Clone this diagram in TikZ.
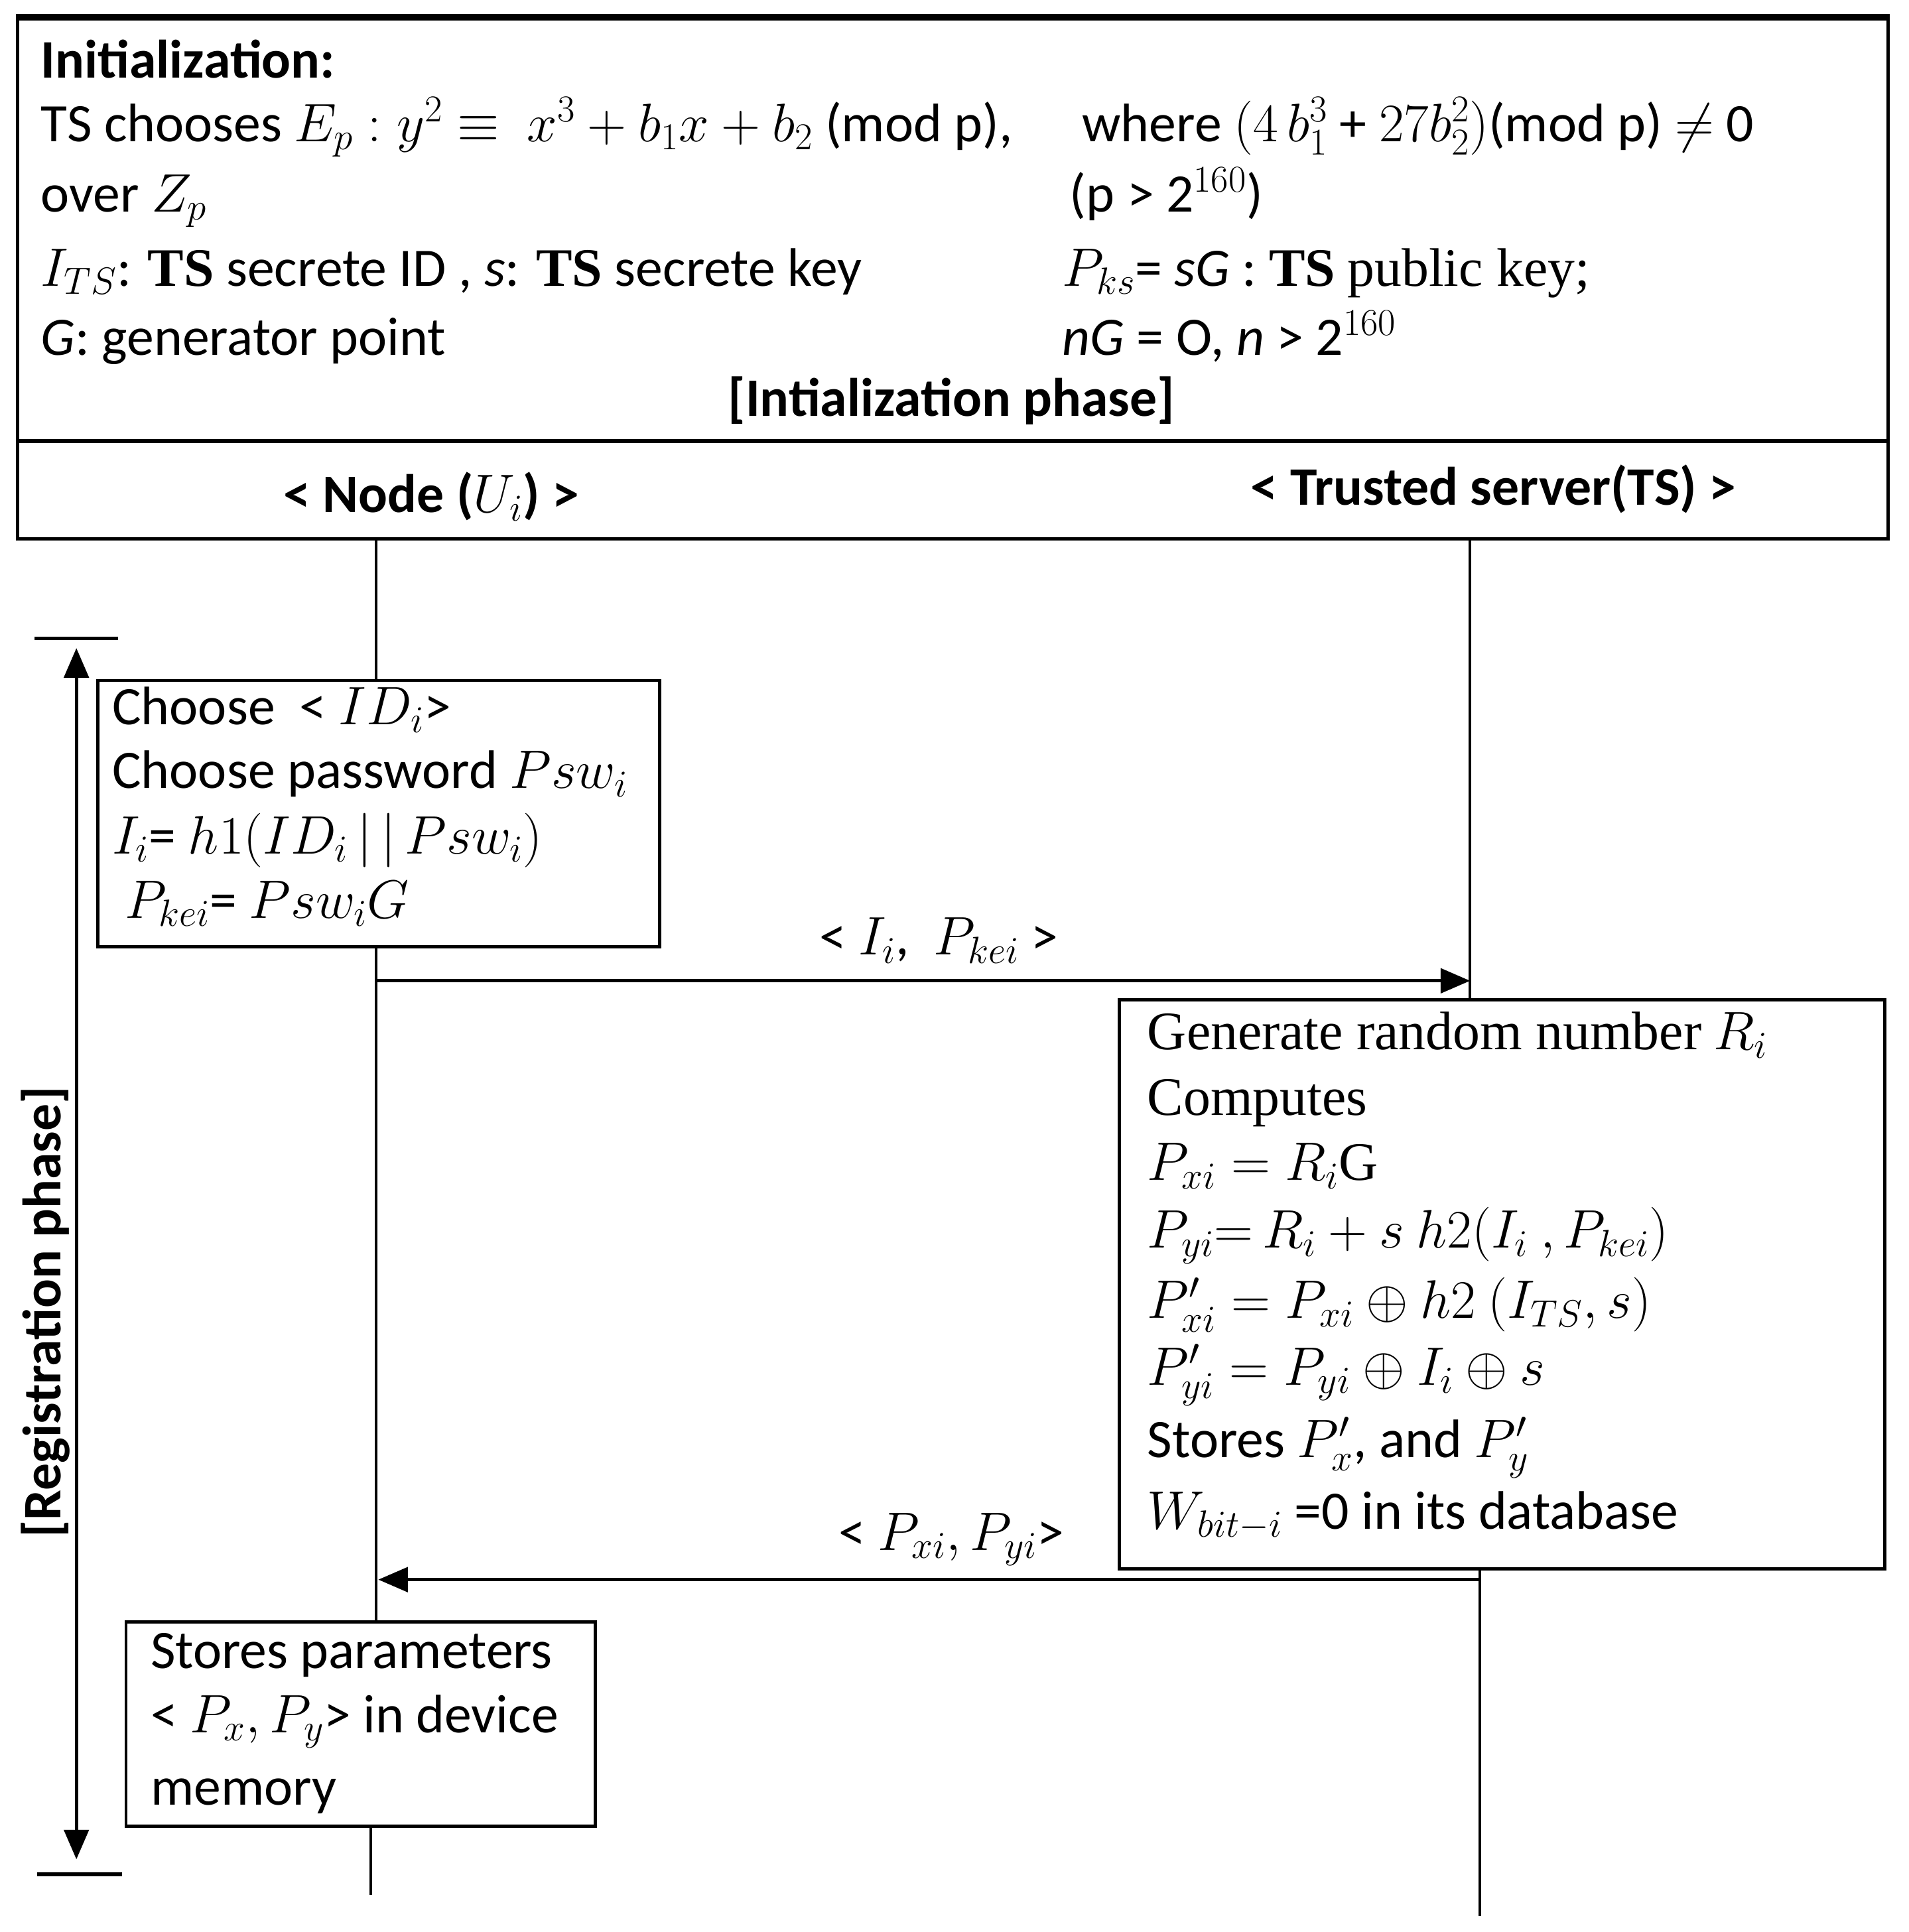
\RequirePackage{fix-cm}
\documentclass[tikz,border=0pt]{standalone}
\usepackage{fontspec}
\setmainfont{Carlito}
\newfontfamily\serf{Liberation Serif}
\usetikzlibrary{arrows.meta}
\begin{document}
\begin{tikzpicture}[x=1pt,y=-1pt,
  txt/.style={anchor=base west,inner sep=0pt,font=\fontsize{44}{53}\selectfont},
  ctxt/.style={anchor=base,inner sep=0pt,font=\fontsize{44}{53}\selectfont},
  btxt/.style={anchor=base,inner sep=0pt,font=\fontsize{44}{53}\selectfont\bfseries},
  boxr/.style={draw,line width=2.6pt,anchor=north west,inner sep=0pt},
  life/.style={line width=2.2pt},
  msg/.style={line width=2.6pt,-{Triangle[length=24pt,width=20pt]}},
  tick/.style={line width=3pt}]
\useasboundingbox (0,0) rectangle (1549,1568);
% header
\node[boxr,minimum width=1518pt,minimum height=422pt] (head) at (13,14) {};
\draw[line width=5pt] (head.north west) -- (head.north east);
\coordinate (divL) at (13,358);
\coordinate (divR) at (1531,358);
\draw[line width=3pt] (divL) -- (divR);
\node[txt] (init) at (33,63) {\textbf{Initialization:}};
\node[txt] (l2a) at (33,115) {TS chooses $E_p : y^2 \equiv\ x^3 + b_1x + b_2$ (mod p),};
\node[txt] (l2b) at (878,115) {where $(4\,b_1^3$ + $27b_2^2)$(mod p) $\neq$ 0};
\node[txt] (l3a) at (33,172) {over $Z_p$};
\node[txt] (l3b) at (868,172) {(p > 2$^{160}$)};
\node[txt] (l4a) at (33,232) {$I_{TS}$: {\serf\bfseries TS} secrete ID , \textit{s}: {\serf\bfseries TS} secrete key};
\node[txt] (l4b) at (862,232) {$P_{ks}$= \textit{sG} : {\serf\bfseries TS} {\serf public key;}};
\node[txt] (l5a) at (33,288) {\textit{G}: generator point};
\node[txt] (l5b) at (862,288) {\textit{nG} = O, \textit{n} > 2$^{160}$};
\node[btxt] (phase1) at (772,338) {[Intialization phase]};
\node[btxt] (nodeU) at (350,416) {< Node ($U_i$) >};
\node[btxt] (nodeTS) at (1212,410) {< Trusted server(TS) >};
% boxes
\node[boxr,minimum width=456pt,minimum height=216pt] (box1) at (78,551) {};
\node[boxr,minimum width=621pt,minimum height=462pt] (box2) at (907,810) {};
\node[boxr,minimum width=381pt,minimum height=166pt] (box3) at (101,1315) {};
% box1 text
\node[txt] (b1a) at (91,588) {Choose \ < $ID_i$>};
\node[txt] (b1b) at (91,640) {Choose password $Psw_i$};
\node[txt] (b1c) at (91,693) {$I_i$= $h1(ID_i\,|\,|\,Psw_i)$};
\node[txt] (b1d) at (101,745) {$P_{kei}$= $Psw_iG$};
% box2 text
\node[txt] (b2a) at (931,852) {{\serf Generate random number} $R_i$};
\node[txt] (b2b) at (931,905) {{\serf Computes}};
\node[txt] (b2c) at (931,958) {$P_{xi} = R_i${\serf G}};
\node[txt] (b2d) at (931,1013) {$P_{yi}{=}\, R_i + s\ h2(I_i\ , P_{kei})$};
\node[txt] (b2e) at (931,1070) {$P'_{xi} = P_{xi} \oplus h2\ (I_{TS}, s)$};
\node[txt] (b2f) at (931,1124) {$P'_{yi} = P_{yi} \oplus I_i \oplus s$};
\node[txt] (b2g) at (931,1183) {Stores $P'_x$, and $P'_y$};
\node[txt] (b2h) at (931,1241) {$W_{bit-i}$ =0 in its database};
% box3 text
\node[txt] (b3a) at (122,1354) {Stores parameters};
\node[txt] (b3b) at (122,1406) {< $P_x, P_y$> in device};
\node[txt] (b3c) at (122,1465) {memory};
% lifelines
\coordinate (uTop) at (305,436);
\coordinate (uBot) at (301,1538);
\coordinate (tTop) at (1193,436);
\coordinate (tBot) at (1201,1555);
\draw[life] (uTop) -- (uTop |- box1.north);
\draw[life] (box1.south -| uTop) -- (box3.north -| uTop);
\draw[life] (box3.south -| uBot) -- (uBot);
\draw[life] (tTop) -- (tTop |- box2.north);
\draw[life] (box2.south -| tBot) -- (tBot);
% messages
\coordinate (m1s) at (305,796);
\coordinate (m1e) at (1193,796);
\draw[msg] (m1s) -- (m1e);
\node[ctxt] (lab1) at (762,775) {< $I_i$,\ \ $P_{kei}$ >};
\coordinate (m2s) at (1201,1282);
\coordinate (m2e) at (307,1282);
\draw[msg] (m2s) -- (m2e);
\node[ctxt] (lab2) at (772,1258) {< $P_{xi}, P_{yi}$>};
% registration phase
\coordinate (rTop) at (62,526);
\coordinate (rBot) at (62,1509);
\draw[line width=2.6pt,{Triangle[length=24pt,width=20pt]}-{Triangle[length=24pt,width=20pt]}] (rTop) -- (rBot);
\coordinate (t1a) at (28,518);
\coordinate (t1b) at (96,518);
\coordinate (t2a) at (30,1521);
\coordinate (t2b) at (99,1521);
\draw[tick] (t1a) -- (t1b);
\draw[tick] (t2a) -- (t2b);
\node[btxt,anchor=center,rotate=90] (reg) at (37,1065) {[Registration phase]};
\end{tikzpicture}
\end{document}
